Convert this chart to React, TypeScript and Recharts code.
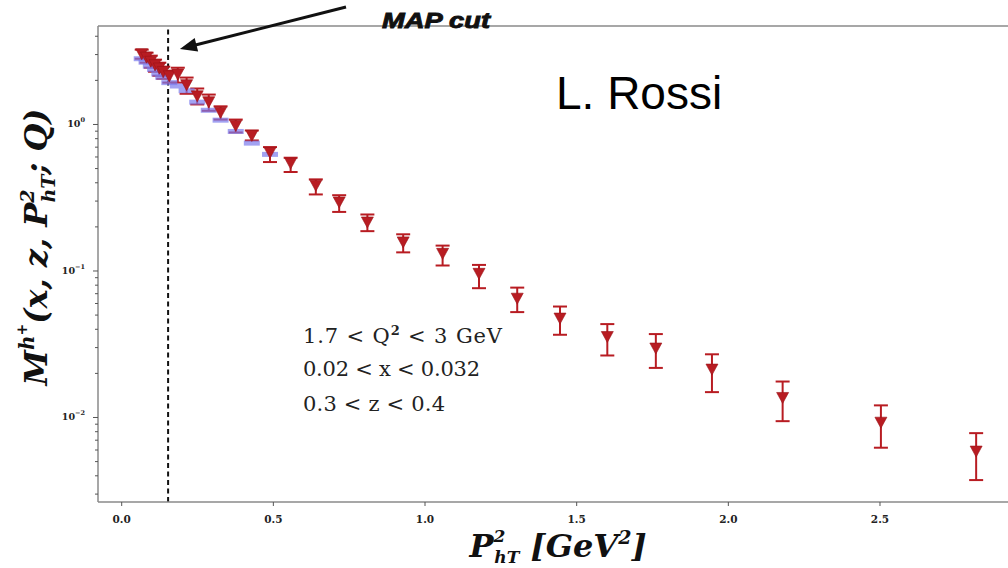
import React from 'react';
import { ScatterChart, Scatter, XAxis, YAxis, ErrorBar, ReferenceLine } from 'recharts';

// P_hT^2 [GeV^2]
const pT2 = [0.066, 0.082, 0.096, 0.110, 0.124, 0.137, 0.157, 0.185, 0.214, 0.249, 0.287, 0.326, 0.376, 0.429, 0.489, 0.557, 0.640, 0.717, 0.810, 0.928, 1.058, 1.178, 1.304, 1.445, 1.601, 1.761, 1.946, 2.179, 2.503, 2.817];
// multiplicity (data points, red triangles)
const mValue = [3.04, 2.88, 2.70, 2.56, 2.43, 2.30, 2.15, 2.21, 1.87, 1.57, 1.43, 1.21, 0.985, 0.842, 0.645, 0.545, 0.385, 0.296, 0.216, 0.158, 0.132, 0.0964, 0.0652, 0.0477, 0.0357, 0.0298, 0.0214, 0.0137, 0.00929, 0.00590];
const mUpper = [3.24, 3.09, 2.95, 2.77, 2.64, 2.48, 2.33, 2.44, 2.09, 1.76, 1.60, 1.33, 1.08, 0.910, 0.701, 0.593, 0.422, 0.329, 0.243, 0.178, 0.149, 0.110, 0.0770, 0.0572, 0.0434, 0.0371, 0.0270, 0.0176, 0.0121, 0.00782];
const mLower = [2.81, 2.64, 2.44, 2.29, 2.15, 2.05, 1.93, 1.93, 1.62, 1.37, 1.24, 1.08, 0.882, 0.778, 0.554, 0.474, 0.333, 0.253, 0.187, 0.134, 0.109, 0.0763, 0.0524, 0.0367, 0.0265, 0.0218, 0.0149, 0.00944, 0.00622, 0.00374];
// theory (blue bands) for the first points
const theoryValue = [2.81, 2.66, 2.50, 2.37, 2.21, 2.10, 1.93, 1.83, 1.70, 1.42, 1.25, 1.07, 0.896, 0.746, 0.625];

const mapCut = 0.153;
const xTicks = [0, 0.5, 1.0, 1.5, 2.0, 2.5];
const xTickLabels = ['0.0', '0.5', '1.0', '1.5', '2.0', '2.5'];
const yMajorTicks = [0.01, 0.1, 1];
const yMajorExponents = ['\u22122', '\u22121', '0'];
const yMinorTicks = [0.003, 0.004, 0.005, 0.006, 0.007, 0.008, 0.009, 0.02, 0.03, 0.04, 0.05, 0.06, 0.07, 0.08, 0.09, 0.2, 0.3, 0.4, 0.5, 0.6, 0.7, 0.8, 0.9, 2, 3, 4];
const conditionLines = ['0.02 < x < 0.032', '0.3 < z < 0.4'];

const xDomain = [-0.0781, 2.922];
const yDomain = [0.00265, 4.70];
const arrowFrom = { x: 0.7395, y: 6.34 };
const arrowTo = { x: 0.192, y: 3.28 };

const RED = '#b81c22';
const AXIS = '#8a8a8a';

const points = pT2.map((x, i) => ({
  x,
  y: mValue[i],
  err: [mValue[i] - mLower[i], mUpper[i] - mValue[i]],
}));
const theoryPoints = theoryValue.map((y, i) => ({ x: pT2[i], y }));
const yTicks = [...yMinorTicks, ...yMajorTicks].sort((a, b) => a - b);

const Tri = (props: any) => {
  const { cx, cy } = props;
  if (cx == null || cy == null) return null;
  return <polygon points={`${cx - 6},${cy - 5} ${cx + 6},${cy - 5} ${cx},${cy + 6}`} fill={RED} stroke="#9a1218" strokeWidth={0.6} />;
};

const BlueBar = (props: any) => {
  const { cx, cy } = props;
  if (cx == null || cy == null) return null;
  return <rect x={cx - 8} y={cy - 2.5} width={16} height={5} fill="#7b7bec" fillOpacity={0.7} />;
};

const XTick = (props: any) => {
  const { x, y, payload } = props;
  const idx = xTicks.findIndex((t) => Math.abs(t - payload.value) < 1e-9);
  return (
    <g>
      <line x1={x} x2={x} y1={y} y2={y + 4} stroke="#555" strokeWidth={1} />
      <text x={x} y={y + 21} textAnchor="middle" fontFamily="DejaVu Serif" fontWeight="bold" fontSize={10.5} fill="#222">
        {idx >= 0 ? xTickLabels[idx] : ''}
      </text>
    </g>
  );
};

const YTick = (props: any) => {
  const { x, y, payload } = props;
  const idx = yMajorTicks.findIndex((t) => Math.abs(t - payload.value) / t < 1e-6);
  const major = idx >= 0;
  return (
    <g>
      <line x1={x - (major ? 5 : 3)} x2={x} y1={y} y2={y} stroke="#555" strokeWidth={1} />
      {major && (
        <text x={x - 13} y={y + 3} textAnchor="end" fontFamily="DejaVu Serif" fontWeight="bold" fontSize={9.5} fill="#222">
          10
          <tspan dy={-5} fontSize={6.5}>{yMajorExponents[idx]}</tspan>
        </text>
      )}
    </g>
  );
};

const Arrow = (props: any) => {
  const { x1, y1, x2, y2 } = props;
  if ([x1, y1, x2, y2].some((v) => v == null || isNaN(v))) return null;
  const dx = x2 - x1;
  const dy = y2 - y1;
  const len = Math.sqrt(dx * dx + dy * dy);
  const ux = dx / len;
  const uy = dy / len;
  const headLen = 17;
  const headHalf = 7;
  const bx = x2 - ux * headLen;
  const by = y2 - uy * headLen;
  const px = -uy;
  const py = ux;
  return (
    <g>
      <line x1={x1} y1={y1} x2={bx + ux * 2} y2={by + uy * 2} stroke="#111" strokeWidth={3} />
      <polygon points={`${x2},${y2} ${bx + px * headHalf},${by + py * headHalf} ${bx - px * headHalf},${by - py * headHalf}`} fill="#111" />
    </g>
  );
};

export default function App() {
  return (
    <div style={{ position: 'absolute', left: 0, top: 0, width: 1008, height: 568, background: '#fff', overflow: 'hidden' }}>
      <ScatterChart width={1008} height={568} margin={{ top: 26, right: 0, bottom: 0, left: 0 }}>
        <XAxis
          dataKey="x"
          type="number"
          domain={xDomain}
          allowDataOverflow
          ticks={xTicks}
          height={66}
          tickLine={false}
          tickSize={0}
          tickMargin={0}
          tick={<XTick />}
          axisLine={{ stroke: AXIS, strokeWidth: 1.5 }}
        />
        <YAxis
          dataKey="y"
          type="number"
          scale="log"
          domain={yDomain}
          allowDataOverflow
          ticks={yTicks}
          width={98}
          tickLine={false}
          tickSize={0}
          tickMargin={0}
          tick={<YTick />}
          interval={0}
          axisLine={{ stroke: AXIS, strokeWidth: 1.5 }}
        />
        <ReferenceLine y={yDomain[1]} stroke={AXIS} strokeWidth={1.5} ifOverflow="visible" />
        <ReferenceLine x={mapCut} stroke="#111" strokeWidth={2} strokeDasharray="5 3.5" />
        <Scatter data={theoryPoints} shape={<BlueBar />} isAnimationActive={false} />
        <Scatter data={points} shape={<Tri />} isAnimationActive={false}>
          <ErrorBar dataKey="err" direction="y" width={7} strokeWidth={2} stroke={RED} isAnimationActive={false} />
        </Scatter>
        <ReferenceLine segment={[arrowFrom, arrowTo]} ifOverflow="visible" shape={<Arrow />} />
      </ScatterChart>
      <svg width={1008} height={568} style={{ position: 'absolute', left: 0, top: 0, pointerEvents: 'none' }}>
        <text x={382} y={28} fontFamily="Liberation Sans" fontWeight="bold" fontStyle="italic" fontSize={22} textLength={108} lengthAdjust="spacingAndGlyphs" fill="#111" stroke="#111" strokeWidth={0.9}>
          MAP cut
        </text>
        <text x={556} y={109} fontFamily="Liberation Sans" fontSize={46} fill="#000">
          L. Rossi
        </text>
        <text x={303} y={343} fontFamily="DejaVu Serif" fontSize={21} fill="#222" textLength={199} lengthAdjust="spacing">
          1.7 &lt; Q
          <tspan dy={-8} fontSize={13} fontWeight="bold">2</tspan>
          <tspan dy={8}>{' < 3 GeV'}</tspan>
        </text>
        <text x={303} y={376} fontFamily="DejaVu Serif" fontSize={21} fill="#222" textLength={177} lengthAdjust="spacing">
          {conditionLines[0]}
        </text>
        <text x={303} y={411} fontFamily="DejaVu Serif" fontSize={21} fill="#222" textLength={142} lengthAdjust="spacing">
          {conditionLines[1]}
        </text>
        <text transform="translate(47,247) rotate(-90)" textAnchor="middle" fontFamily="DejaVu Serif" fontWeight="bold" fontStyle="italic" fontSize={32} fill="#111">
          M
          <tspan dy={-13} fontSize={20}>h</tspan>
          <tspan dy={-7} fontSize={14}>+</tspan>
          <tspan dy={20} fontSize={32}>(x, z, P</tspan>
          <tspan dy={-13} fontSize={19}>2</tspan>
          <tspan dx={-13} dy={21} fontSize={19}>hT</tspan>
          <tspan dy={-8} fontSize={32}>; Q)</tspan>
        </text>
        <text x={558} y={557} textAnchor="middle" fontFamily="DejaVu Serif" fontWeight="bold" fontStyle="italic" fontSize={32} fill="#111">
          P
          <tspan dy={-15} fontSize={17}>2</tspan>
          <tspan dx={-11} dy={21} fontSize={17}>hT</tspan>
          <tspan dy={-6} fontSize={32}>{' [GeV'}</tspan>
          <tspan dy={-13} fontSize={19}>2</tspan>
          <tspan dy={13} fontSize={32}>]</tspan>
        </text>
      </svg>
    </div>
  );
}
